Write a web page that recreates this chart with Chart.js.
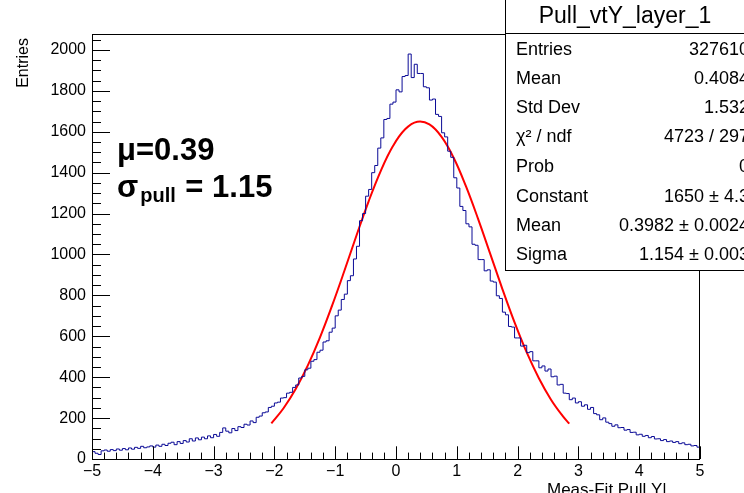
<!DOCTYPE html>
<html>
<head>
<meta charset="utf-8">
<script src="https://cdn.jsdelivr.net/npm/chart.js@4/dist/chart.umd.min.js"></script>
<style>
html,body{margin:0;padding:0;background:#fff;}
canvas{display:block;}
</style>
</head>
<body>
<canvas id="c" width="744" height="493"></canvas>
<script>
// ---- data ----
const histXMin = -5;
const histBinWidth = 0.05;
const histCounts = [
  36,28,22,40,44,38,46,41,49,43,51,45,54,48,57,52,62,55,59,64,
  58,68,62,72,66,77,82,70,85,76,90,83,99,88,103,94,107,99,113,104,
  120,111,130,152,136,128,149,139,158,154,170,166,186,178,204,210,226,230,252,258,
  274,278,298,300,322,326,350,362,396,404,436,444,478,486,522,532,572,578,620,640,
  700,728,780,806,872,896,978,1040,1165,1200,1285,1318,1400,1435,1520,1570,1660,1665,1735,1745,
  1805,1795,1870,1875,1980,1865,1930,1885,1885,1820,1815,1755,1760,1685,1675,1595,1575,1505,1475,1375,
  1325,1235,1215,1150,1135,1050,1045,975,975,920,925,870,865,798,785,718,705,648,645,592,
  592,552,556,520,525,480,480,446,455,430,440,402,405,362,365,322,320,290,298,274,
  280,258,265,243,252,222,216,192,201,180,173,160,167,153,154,141,144,130,131,118,
  121,111,115,104,110,98,99,90,95,85,88,81,85,75,79,70,72,64,66,58
];
const fitX = [-2.05,-1.85,-1.65,-1.45,-1.25,-1.05,-0.85,-0.65,-0.45,-0.25,-0.05,0.15,0.35,0.55,0.75,0.95,1.15,1.35,1.55,1.75,1.95,2.15,2.35,2.55,2.75,2.85];
const fitY = [174,248,342,458,595,751,919,1093,1260,1409,1530,1612,1649,1636,1575,1472,1334,1174,1003,831,668,521,395,290,207,173];
const xTicks = [-5,-4,-3,-2,-1,0,1,2,3,4,5];
const yTicks = [0,200,400,600,800,1000,1200,1400,1600,1800,2000];
const statsTitle = "Pull_vtY_layer_1";
const statsLabels = ["Entries","Mean","Std Dev","\u03c7\u00b2 / ndf","Prob","Constant","Mean","Sigma"];
const statsValues = ["327610","0.4084","1.532","4723 / 297","0","1650 \u00b1 4.3","0.3982 \u00b1 0.0024","1.154 \u00b1 0.003"];
const xTitle = "Meas-Fit Pull Y|";
const yTitle = "Entries";

// ---- build datasets ----
const histPoints = histCounts.map((v,i)=>({x: histXMin + i*histBinWidth, y: v}));
histPoints.push({x: histXMin + histCounts.length*histBinWidth, y: histCounts[histCounts.length-1]});
const fitPoints = fitX.map((x,i)=>({x:x, y:fitY[i]}));

const FONT = "'Liberation Sans', Arial, sans-serif";

const rootPlugin = {
  id: 'rootStyle',
  afterDraw(chart){
    const ctx = chart.ctx;
    const ca = chart.chartArea;
    const xs = chart.scales.x, ys = chart.scales.y;
    ctx.save();
    ctx.strokeStyle = '#000';
    ctx.lineWidth = 1;
    // frame
    ctx.strokeRect(Math.round(ca.left)+0.5, Math.round(ca.top)+0.5, Math.round(ca.right-ca.left)-1, Math.round(ca.bottom-ca.top));
    // x ticks (inside, bottom)
    const hMaj = 12.7, hMin = 6.4;
    ctx.beginPath();
    for (let k=-50;k<=50;k+=2){
      const v = k/10;
      const px = Math.round(xs.getPixelForValue(v))+0.5;
      const len = (k%10===0)?hMaj:hMin;
      ctx.moveTo(px, ca.bottom);
      ctx.lineTo(px, ca.bottom-len);
    }
    // y ticks (inside, left)
    const wMaj = 18, wMin = 9;
    for (let v=0; v<=2078; v+=50){
      const py = Math.round(ys.getPixelForValue(v))+0.5;
      const len = (v%200===0)?wMaj:wMin;
      ctx.moveTo(ca.left, py);
      ctx.lineTo(ca.left+len, py);
    }
    ctx.stroke();

    // axis titles
    ctx.fillStyle = '#000';
    ctx.font = "16px " + FONT;
    ctx.save();
    ctx.translate(28, ca.top+4);
    ctx.rotate(-Math.PI/2);
    ctx.textAlign = 'right';
    ctx.textBaseline = 'alphabetic';
    ctx.fillText(yTitle, 0, 0);
    ctx.restore();
    ctx.font = "17px " + FONT;
    ctx.textAlign = 'left';
    ctx.textBaseline = 'alphabetic';
    ctx.fillText(xTitle, 547, 495);

    // annotation
    ctx.font = "bold 31px " + FONT;
    ctx.fillText("\u03bc=0.39", 117, 160);
    ctx.fillText("\u03c3", 117, 197);
    let w = ctx.measureText("\u03c3").width;
    ctx.font = "bold 20px " + FONT;
    ctx.fillText("pull", 117+w+2, 202);
    let w2 = ctx.measureText("pull").width;
    ctx.font = "bold 31px " + FONT;
    ctx.fillText(" = 1.15", 117+w+2+w2+1, 197);

    // stats box
    const bx = 505.5, by = -1, bw = 260, bh = 270.5;
    ctx.fillStyle = '#fff';
    ctx.fillRect(bx, by, bw, bh+1);
    ctx.strokeStyle = '#000';
    ctx.strokeRect(bx, by, bw, bh+1);
    ctx.beginPath();
    ctx.moveTo(bx, 33.5); ctx.lineTo(744, 33.5);
    ctx.stroke();
    ctx.fillStyle = '#000';
    ctx.font = "23px " + FONT;
    ctx.textAlign = 'center';
    ctx.textBaseline = 'middle';
    ctx.fillText(statsTitle, 625, 17);
    ctx.font = "18px " + FONT;
    const rowY = [50,79.5,108.5,137.5,167,197,226.5,255];
    for (let i=0;i<statsLabels.length;i++){
      ctx.textAlign = 'left';
      ctx.fillText(statsLabels[i], 516, rowY[i]);
      ctx.textAlign = 'right';
      ctx.fillText(statsValues[i], 749, rowY[i]);
    }
    ctx.restore();
  }
};

new Chart(document.getElementById('c'), {
  type: 'scatter',
  data: {
    datasets: [
      {
        data: histPoints,
        showLine: true,
        stepped: 'before',
        borderColor: '#0a0a96',
        borderWidth: 1,
        pointRadius: 0,
        fill: false
      },
      {
        data: fitPoints,
        showLine: true,
        tension: 0.4,
        borderColor: '#ff0000',
        borderWidth: 2,
        pointRadius: 0,
        fill: false
      }
    ]
  },
  options: {
    responsive: false,
    animation: false,
    events: [],
    layout: { padding: { top: 34, right: 44, left: 0, bottom: 0 } },
    plugins: { legend: { display: false }, tooltip: { enabled: false } },
    scales: {
      x: {
        type: 'linear', min: -5, max: 5,
        grid: { display: false, drawTicks: false },
        border: { display: false },
        afterBuildTicks: (s) => { s.ticks = xTicks.map(v=>({value:v})); },
        afterFit: (s) => { s.height = 34; },
        ticks: {
          autoSkip: false, maxRotation: 0, padding: 3,
          color: '#000', font: { family: FONT, size: 16 },
          callback: (v) => v < 0 ? '\u2212' + Math.abs(v) : String(v)
        }
      },
      y: {
        type: 'linear', min: 0, max: 2078,
        grid: { display: false, drawTicks: false },
        border: { display: false },
        afterBuildTicks: (s) => { s.ticks = yTicks.map(v=>({value:v})); },
        afterFit: (s) => { s.width = 92; },
        ticks: {
          autoSkip: false, padding: 6,
          color: '#000', font: { family: FONT, size: 16 },
          callback: (v) => String(v)
        }
      }
    }
  },
  plugins: [rootPlugin]
});
</script>
</body>
</html>
